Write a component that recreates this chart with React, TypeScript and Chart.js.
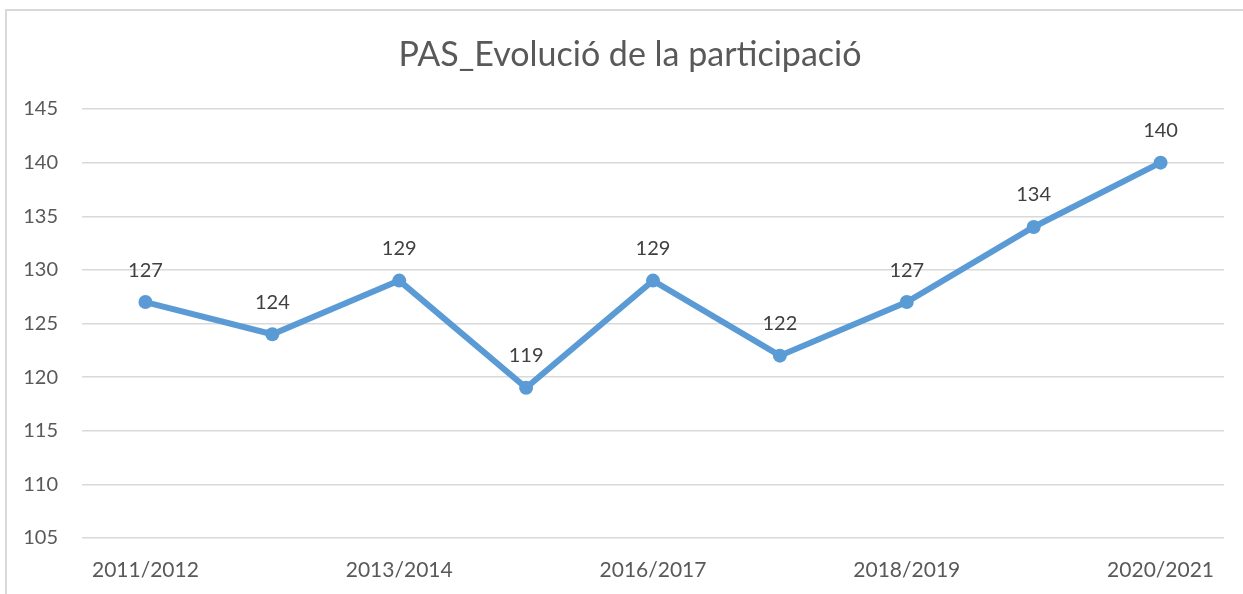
import React, { useEffect, useRef } from "react";
import { Chart, registerables } from "chart.js";

Chart.register(...registerables);

const categories = [
  "2011/2012",
  "2012/2013",
  "2013/2014",
  "2015/2016",
  "2016/2017",
  "2017/2018",
  "2018/2019",
  "2019/2020",
  "2020/2021",
];
const participation = [127, 124, 129, 119, 129, 122, 127, 134, 140];
const yTicks = [105, 110, 115, 120, 125, 130, 135, 140, 145];
const chartTitle = "PAS_Evolució de la participació";

const FONT = "Lato, 'Open Sans', sans-serif";

const labelsPlugin = {
  id: "pointLabels",
  afterDatasetsDraw(chart: any) {
    const ctx = chart.ctx;
    const meta = chart.getDatasetMeta(0);
    ctx.save();
    ctx.font = `20px ${FONT}`;
    ctx.fillStyle = "#404040";
    ctx.textAlign = "center";
    ctx.textBaseline = "middle";
    meta.data.forEach((pt: any, i: number) => {
      ctx.fillText(String(participation[i]), pt.x, pt.y - 32);
    });
    ctx.restore();
  },
};

const titlePlugin = {
  id: "customTitle",
  afterDraw(chart: any) {
    const ctx = chart.ctx;
    ctx.save();
    ctx.font = `34px ${FONT}`;
    ctx.fillStyle = "#595959";
    ctx.textAlign = "center";
    ctx.textBaseline = "middle";
    ctx.fillText(chartTitle, 630, 55);
    ctx.restore();
  },
};

export default function App() {
  const ref = useRef<HTMLCanvasElement>(null);

  useEffect(() => {
    document.body.style.margin = "0";
    const chart = new Chart(ref.current!, {
      type: "line",
      data: {
        labels: categories,
        datasets: [
          {
            data: participation,
            borderColor: "#5B9BD5",
            backgroundColor: "#5B9BD5",
            borderWidth: 6,
            pointRadius: 7,
            pointBorderWidth: 0,
            pointBackgroundColor: "#5B9BD5",
            tension: 0,
          },
        ],
      },
      options: {
        responsive: false,
        animation: false,
        layout: { padding: { left: 0, right: 19, top: 109, bottom: 0 } },
        plugins: {
          legend: { display: false },
          title: { display: false },
          tooltip: { enabled: false },
        },
        scales: {
          x: {
            offset: true,
            grid: { display: false, drawTicks: false },
            border: { display: false },
            ticks: {
              autoSkip: false,
              maxRotation: 0,
              padding: 20,
              color: "#595959",
              font: { family: FONT, size: 21 },
              callback: (_v: any, i: number) => (i % 2 === 0 ? categories[i] : ""),
            },
            afterFit: (s: any) => {
              s.height = 56;
            },
          },
          y: {
            min: 105,
            max: 145,
            afterBuildTicks: (s: any) => {
              s.ticks = yTicks.map((v) => ({ value: v }));
            },
            grid: { color: "#D9D9D9", lineWidth: 1.5, drawTicks: false },
            border: { display: false },
            ticks: {
              padding: 24,
              color: "#595959",
              font: { family: FONT, size: 20 },
            },
            afterFit: (s: any) => {
              s.width = 82;
            },
          },
        },
      },
      plugins: [labelsPlugin, titlePlugin],
    });
    return () => chart.destroy();
  }, []);

  return (
    <div style={{ position: "relative", width: 1243, height: 594, overflow: "hidden", background: "#fff" }}>
      <canvas ref={ref} width={1243} height={594} style={{ position: "absolute", left: 0, top: 0 }} />
      <div
        style={{
          position: "absolute",
          left: 5,
          top: 9,
          width: 1300,
          height: 700,
          borderLeft: "2px solid #D9D9D9",
          borderTop: "2px solid #D9D9D9",
          pointerEvents: "none",
        }}
      />
    </div>
  );
}
